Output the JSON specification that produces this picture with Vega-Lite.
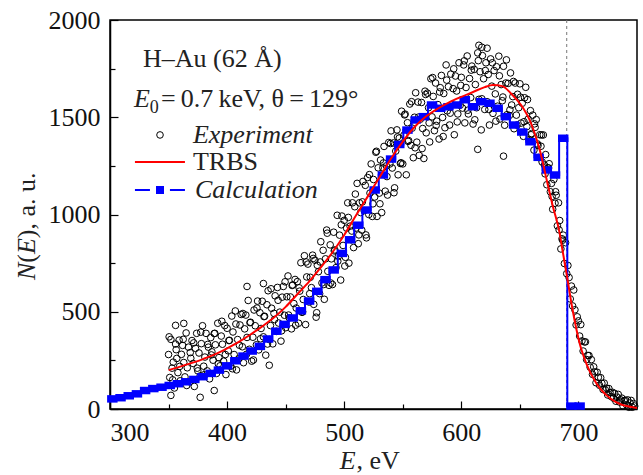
{
"$schema": "https://vega.github.io/schema/vega-lite/v6.json",
"width": 527, "height": 389,
"autosize": "none",
"padding": {"left": 110, "top": 20, "right": 6, "bottom": 66},
"config": {
 "font": "Liberation Serif",
 "view": {"stroke": "black", "strokeWidth": 1.5},
 "axis": {"grid": false, "domainColor": "black", "domainWidth": 1.5, "tickColor": "black", "tickWidth": 1.2, "labelColor": "#111111", "labelFont": "Liberation Serif", "labelFontSize": 26, "titleFont": "Liberation Serif", "titleFontSize": 26, "titleFontWeight": "normal", "titleColor": "black"}
},
"resolve": {"axis": {"x": "independent", "y": "independent"}},
"datasets": {
 "vline": [{"E": 690}],
 "exp": [
{"E":350,"N":280},{"E":351,"N":162},{"E":352,"N":358},{"E":353,"N":210},{"E":354,"N":241},{"E":355,"N":108},{"E":356,"N":334},{"E":357,"N":260},{"E":358,"N":187},{"E":359,"N":354},
{"E":360,"N":145},{"E":361,"N":281},{"E":362,"N":327},{"E":363,"N":239},{"E":364,"N":165},{"E":365,"N":391},{"E":366,"N":212},{"E":367,"N":318},{"E":368,"N":140},{"E":369,"N":261},
{"E":370,"N":352},{"E":371,"N":234},{"E":372,"N":116},{"E":373,"N":312},{"E":374,"N":389},{"E":375,"N":196},{"E":376,"N":288},{"E":377,"N":170},{"E":378,"N":336},{"E":379,"N":428},
{"E":380,"N":220},{"E":381,"N":267},{"E":382,"N":389},{"E":383,"N":196},{"E":384,"N":318},{"E":385,"N":155},{"E":386,"N":367},{"E":387,"N":294},{"E":388,"N":251},{"E":389,"N":388},
{"E":390,"N":330},{"E":391,"N":183},{"E":392,"N":441},{"E":393,"N":264},{"E":394,"N":222},{"E":395,"N":375},{"E":396,"N":333},{"E":397,"N":246},{"E":398,"N":429},{"E":399,"N":177},
{"E":400,"N":415},{"E":401,"N":299},{"E":402,"N":353},{"E":403,"N":220},{"E":404,"N":478},{"E":405,"N":396},{"E":406,"N":280},{"E":407,"N":504},{"E":408,"N":201},{"E":409,"N":357},
{"E":410,"N":258},{"E":411,"N":432},{"E":412,"N":486},{"E":413,"N":320},{"E":414,"N":238},{"E":415,"N":412},{"E":416,"N":483},{"E":417,"N":368},{"E":418,"N":558},{"E":419,"N":307},
{"E":420,"N":446},{"E":421,"N":246},{"E":422,"N":369},{"E":423,"N":509},{"E":424,"N":428},{"E":425,"N":330},{"E":426,"N":555},{"E":427,"N":304},{"E":428,"N":495},{"E":429,"N":414},
{"E":430,"N":554},{"E":431,"N":371},{"E":432,"N":477},{"E":433,"N":277},{"E":434,"N":536},{"E":435,"N":608},{"E":436,"N":357},{"E":437,"N":429},{"E":438,"N":518},{"E":439,"N":335},
{"E":440,"N":492},{"E":441,"N":582},{"E":442,"N":399},{"E":443,"N":625},{"E":444,"N":442},{"E":445,"N":498},{"E":446,"N":349},{"E":447,"N":575},{"E":448,"N":630},{"E":449,"N":482},
{"E":450,"N":418},{"E":451,"N":577},{"E":452,"N":684},{"E":453,"N":469},{"E":454,"N":576},{"E":455,"N":412},{"E":456,"N":638},{"E":457,"N":542},{"E":458,"N":666},{"E":459,"N":519},
{"E":460,"N":655},{"E":461,"N":441},{"E":462,"N":606},{"E":463,"N":752},{"E":464,"N":497},{"E":465,"N":563},{"E":466,"N":788},{"E":467,"N":434},{"E":468,"N":679},{"E":469,"N":745},
{"E":470,"N":550},{"E":471,"N":677},{"E":472,"N":624},{"E":473,"N":791},{"E":474,"N":538},{"E":475,"N":765},{"E":476,"N":472},{"E":477,"N":739},{"E":478,"N":706},{"E":479,"N":593},
{"E":480,"N":860},{"E":481,"N":648},{"E":482,"N":816},{"E":483,"N":564},{"E":484,"N":772},{"E":485,"N":920},{"E":486,"N":708},{"E":487,"N":636},{"E":488,"N":844},{"E":489,"N":772},
{"E":490,"N":640},{"E":491,"N":909},{"E":492,"N":818},{"E":493,"N":727},{"E":494,"N":996},{"E":495,"N":785},{"E":496,"N":894},{"E":497,"N":663},{"E":498,"N":992},{"E":499,"N":841},
{"E":500,"N":970},{"E":501,"N":780},{"E":502,"N":930},{"E":503,"N":1060},{"E":504,"N":750},{"E":505,"N":940},{"E":506,"N":870},{"E":507,"N":1060},{"E":508,"N":830},{"E":509,"N":1040},
{"E":510,"N":930},{"E":511,"N":1160},{"E":512,"N":850},{"E":513,"N":1060},{"E":514,"N":1010},{"E":515,"N":920},{"E":516,"N":1170},{"E":517,"N":1020},{"E":518,"N":1150},{"E":519,"N":880},
{"E":520,"N":1190},{"E":521,"N":1000},{"E":522,"N":1110},{"E":523,"N":1260},{"E":524,"N":990},{"E":525,"N":1180},{"E":526,"N":1090},{"E":527,"N":1320},{"E":528,"N":990},{"E":529,"N":1240},
{"E":530,"N":1110},{"E":531,"N":1280},{"E":532,"N":1010},{"E":533,"N":1240},{"E":534,"N":1350},{"E":535,"N":1120},{"E":536,"N":1250},{"E":537,"N":1100},{"E":538,"N":1370},{"E":539,"N":1260},
{"E":540,"N":1430},{"E":541,"N":1239},{"E":542,"N":1368},{"E":543,"N":1137},{"E":544,"N":1326},{"E":545,"N":1435},{"E":546,"N":1204},{"E":547,"N":1393},{"E":548,"N":1262},{"E":549,"N":1531},
{"E":550,"N":1260},{"E":551,"N":1408},{"E":552,"N":1516},{"E":553,"N":1204},{"E":554,"N":1472},{"E":555,"N":1380},{"E":556,"N":1568},{"E":557,"N":1356},{"E":558,"N":1444},{"E":559,"N":1292},
{"E":560,"N":1500},{"E":561,"N":1626},{"E":562,"N":1372},{"E":563,"N":1578},{"E":564,"N":1304},{"E":565,"N":1490},{"E":566,"N":1576},{"E":567,"N":1442},{"E":568,"N":1288},{"E":569,"N":1634},
{"E":570,"N":1420},{"E":571,"N":1624},{"E":572,"N":1549},{"E":573,"N":1373},{"E":574,"N":1698},{"E":575,"N":1502},{"E":576,"N":1607},{"E":577,"N":1431},{"E":578,"N":1676},{"E":579,"N":1480},
{"E":580,"N":1565},{"E":581,"N":1388},{"E":582,"N":1652},{"E":583,"N":1715},{"E":584,"N":1499},{"E":585,"N":1622},{"E":586,"N":1446},{"E":587,"N":1769},{"E":588,"N":1533},{"E":589,"N":1657},
{"E":590,"N":1460},{"E":591,"N":1722},{"E":592,"N":1565},{"E":593,"N":1647},{"E":594,"N":1410},{"E":595,"N":1712},{"E":596,"N":1635},{"E":597,"N":1517},{"E":598,"N":1780},{"E":599,"N":1562},
{"E":600,"N":1705},{"E":601,"N":1547},{"E":602,"N":1769},{"E":603,"N":1471},{"E":604,"N":1653},{"E":605,"N":1815},{"E":606,"N":1517},{"E":607,"N":1699},{"E":608,"N":1601},{"E":609,"N":1763},
{"E":610,"N":1465},{"E":611,"N":1746},{"E":612,"N":1668},{"E":613,"N":1549},{"E":614,"N":1831},{"E":615,"N":1592},{"E":616,"N":1734},{"E":617,"N":1435},{"E":618,"N":1817},{"E":619,"N":1698},
{"E":620,"N":1540},{"E":621,"N":1780},{"E":622,"N":1580},{"E":623,"N":1720},{"E":624,"N":1460},{"E":625,"N":1800},{"E":626,"N":1660},{"E":627,"N":1520},{"E":628,"N":1740},{"E":629,"N":1620},
{"E":630,"N":1760},{"E":631,"N":1557},{"E":632,"N":1814},{"E":633,"N":1491},{"E":634,"N":1668},{"E":635,"N":1585},{"E":636,"N":1762},{"E":637,"N":1459},{"E":638,"N":1676},{"E":639,"N":1513},
{"E":640,"N":1674},{"E":641,"N":1509},{"E":642,"N":1728},{"E":643,"N":1563},{"E":644,"N":1606},{"E":645,"N":1441},{"E":646,"N":1676},{"E":647,"N":1511},{"E":648,"N":1618},{"E":649,"N":1549},
{"E":650,"N":1672},{"E":651,"N":1470},{"E":652,"N":1572},{"E":653,"N":1402},{"E":654,"N":1600},{"E":655,"N":1654},{"E":656,"N":1452},{"E":657,"N":1490},{"E":658,"N":1384},{"E":659,"N":1534},
{"E":660,"N":1416},{"E":661,"N":1511},{"E":662,"N":1331},{"E":663,"N":1448},{"E":664,"N":1488},{"E":665,"N":1363},{"E":666,"N":1293},{"E":667,"N":1410},{"E":668,"N":1351},{"E":669,"N":1270},
{"E":670,"N":1409},{"E":671,"N":1254},{"E":672,"N":1308},{"E":673,"N":1153},{"E":674,"N":1240},{"E":675,"N":1261},{"E":676,"N":1117},{"E":677,"N":1160},{"E":678,"N":1027},{"E":679,"N":1180},
{"E":680,"N":1058},{"E":681,"N":1099},{"E":682,"N":942},{"E":683,"N":1060},{"E":684,"N":969},{"E":685,"N":823},{"E":686,"N":875},{"E":687,"N":894},{"E":688,"N":748},{"E":689,"N":855},
{"E":690,"N":696},{"E":691,"N":738},{"E":692,"N":676},{"E":693,"N":566},{"E":694,"N":632},{"E":695,"N":530},{"E":696,"N":612},{"E":697,"N":510},{"E":698,"N":432},{"E":699,"N":474},
{"E":700,"N":453},{"E":701,"N":375},{"E":702,"N":434},{"E":703,"N":350},{"E":704,"N":298},{"E":705,"N":345},{"E":706,"N":345},{"E":707,"N":254},{"E":708,"N":275},{"E":709,"N":275},
{"E":710,"N":215},{"E":711,"N":254},{"E":712,"N":178},{"E":713,"N":217},{"E":714,"N":191},{"E":715,"N":135},{"E":716,"N":189},{"E":717,"N":163},{"E":718,"N":122},{"E":719,"N":161},
{"E":720,"N":132},{"E":721,"N":100},{"E":722,"N":133},{"E":723,"N":98},{"E":724,"N":107},{"E":725,"N":72},{"E":726,"N":105},{"E":727,"N":85},{"E":728,"N":64},{"E":729,"N":86},
{"E":730,"N":56},{"E":731,"N":80},{"E":732,"N":40},{"E":733,"N":61},{"E":734,"N":75},{"E":735,"N":36},{"E":736,"N":47},{"E":737,"N":56},{"E":738,"N":16},{"E":739,"N":43},
{"E":740,"N":45},{"E":741,"N":22},{"E":742,"N":47},{"E":743,"N":9},{"E":744,"N":31},{"E":745,"N":44},{"E":746,"N":9},{"E":747,"N":28},{"E":748,"N":15},
{"E":352,"N":70},{"E":377,"N":60},{"E":389,"N":95},{"E":417,"N":630},{"E":436,"N":225},{"E":431,"N":645},{"E":615,"N":1870},{"E":617.5,"N":1860},{"E":622,"N":1855},{"E":614,"N":1335},{"E":636,"N":1300},{"E":356,"N":430},{"E":363,"N":440},
{"E":350.5,"N":371},{"E":353.5,"N":150},{"E":356.5,"N":305},{"E":359.5,"N":219},{"E":362.5,"N":358},{"E":365.5,"N":121},{"E":368.5,"N":290},{"E":371.5,"N":340},{"E":374.5,"N":210},{"E":377.5,"N":395},
{"E":380.5,"N":176},{"E":383.5,"N":332},{"E":386.5,"N":278},{"E":389.5,"N":389},{"E":392.5,"N":232},{"E":395.5,"N":451},{"E":398.5,"N":280},{"E":401.5,"N":352},{"E":404.5,"N":207},{"E":407.5,"N":437},
{"E":410.5,"N":328},{"E":413.5,"N":491},{"E":416.5,"N":281},{"E":419.5,"N":444},{"E":422.5,"N":252},{"E":425.5,"N":519},{"E":428.5,"N":361},{"E":431.5,"N":475},{"E":434.5,"N":334},{"E":437.5,"N":618},
{"E":440.5,"N":460},{"E":443.5,"N":559},{"E":446.5,"N":402},{"E":449.5,"N":654},{"E":452.5,"N":483},{"E":455.5,"N":635},{"E":458.5,"N":431},{"E":461.5,"N":623},{"E":464.5,"N":500},{"E":467.5,"N":756},
{"E":470.5,"N":593},{"E":473.5,"N":774},{"E":476.5,"N":495},{"E":479.5,"N":756},{"E":482.5,"N":640},{"E":485.5,"N":904},{"E":488.5,"N":648},{"E":491.5,"N":813},{"E":494.5,"N":760},{"E":497.5,"N":947},
{"E":500.5,"N":735},{"E":503.5,"N":985},{"E":506.5,"N":915},{"E":509.5,"N":1105},{"E":512.5,"N":895},{"E":515.5,"N":1065},{"E":518.5,"N":895},{"E":521.5,"N":1205},{"E":524.5,"N":1055},{"E":527.5,"N":1325},
{"E":530.5,"N":1055},{"E":533.5,"N":1265},{"E":536.5,"N":1195},{"E":539.5,"N":1365},{"E":542.5,"N":1112},{"E":545.5,"N":1399},{"E":548.5,"N":1266},{"E":551.5,"N":1512},{"E":554.5,"N":1376},{"E":557.5,"N":1580},
{"E":560.5,"N":1343},{"E":563.5,"N":1501},{"E":566.5,"N":1339},{"E":569.5,"N":1617},{"E":572.5,"N":1471},{"E":575.5,"N":1704},{"E":578.5,"N":1458},{"E":581.5,"N":1630},{"E":584.5,"N":1401},{"E":587.5,"N":1691},
{"E":590.5,"N":1521},{"E":593.5,"N":1749},{"E":596.5,"N":1476},{"E":599.5,"N":1664},{"E":602.5,"N":1790},{"E":605.5,"N":1536},{"E":608.5,"N":1742},{"E":611.5,"N":1487},{"E":614.5,"N":1791},{"E":617.5,"N":1595},
{"E":620.5,"N":1740},{"E":623.5,"N":1540},{"E":626.5,"N":1780},{"E":629.5,"N":1480},{"E":632.5,"N":1713},{"E":635.5,"N":1604},{"E":638.5,"N":1795},{"E":641.5,"N":1538},{"E":644.5,"N":1684},{"E":647.5,"N":1460},
{"E":650.5,"N":1603},{"E":653.5,"N":1477},{"E":656.5,"N":1591},{"E":659.5,"N":1410},{"E":662.5,"N":1466},{"E":665.5,"N":1355},{"E":668.5,"N":1409},{"E":671.5,"N":1209},{"E":674.5,"N":1239},{"E":677.5,"N":1093},
{"E":680.5,"N":1117},{"E":683.5,"N":921},{"E":686.5,"N":868}
 ],
 "calc": [
{"E":302,"N":52},{"E":309,"N":58},{"E":316,"N":68},{"E":323,"N":78},{"E":330,"N":95},{"E":337,"N":105},{"E":344,"N":112},{"E":351,"N":121},{"E":358,"N":130},{"E":365,"N":140},
{"E":372,"N":152},{"E":379,"N":166},{"E":386,"N":183},{"E":393,"N":200},{"E":400,"N":222},{"E":407,"N":248},{"E":414,"N":272},{"E":421,"N":298},{"E":428,"N":322},{"E":435,"N":360},
{"E":442,"N":400},{"E":449,"N":435},{"E":456,"N":468},{"E":463,"N":505},{"E":470,"N":555},{"E":477,"N":605},{"E":484,"N":665},{"E":491,"N":715},{"E":498,"N":800},{"E":505,"N":870},
{"E":512,"N":945},{"E":519,"N":1023},{"E":526,"N":1126},{"E":533,"N":1203},{"E":540,"N":1285},{"E":547,"N":1360},{"E":554,"N":1434},{"E":561,"N":1486},{"E":568,"N":1503},{"E":575,"N":1563},
{"E":582,"N":1546},{"E":589,"N":1554},{"E":596,"N":1563},{"E":603,"N":1590},{"E":610,"N":1554},{"E":617,"N":1580},{"E":624,"N":1572},{"E":631,"N":1546},{"E":638,"N":1503},{"E":645,"N":1460},
{"E":652,"N":1424},{"E":659,"N":1374},{"E":666,"N":1294},{"E":673,"N":1229},{"E":680,"N":1203},{"E":687,"N":1392},{"E":694,"N":15},{"E":701,"N":15}
 ],
 "trbs": [
{"E":350,"N":200},{"E":360,"N":218},{"E":370,"N":237},{"E":380,"N":258},{"E":390,"N":282},{"E":400,"N":312},{"E":410,"N":345},{"E":420,"N":383},{"E":430,"N":425},{"E":440,"N":470},
{"E":450,"N":525},{"E":460,"N":590},{"E":470,"N":655},{"E":480,"N":728},{"E":490,"N":806},{"E":500,"N":895},{"E":510,"N":995},{"E":520,"N":1092},{"E":530,"N":1190},{"E":540,"N":1288},
{"E":550,"N":1375},{"E":560,"N":1450},{"E":570,"N":1505},{"E":580,"N":1545},{"E":590,"N":1578},{"E":600,"N":1605},{"E":610,"N":1630},{"E":620,"N":1655},{"E":627,"N":1666},{"E":635,"N":1660},
{"E":642,"N":1625},{"E":648,"N":1585},{"E":653,"N":1545},{"E":658,"N":1490},{"E":662,"N":1428},{"E":667,"N":1331},{"E":673,"N":1175},{"E":678,"N":1045},{"E":684,"N":903},{"E":686,"N":830},
{"E":690,"N":690},{"E":695,"N":510},{"E":701,"N":338},{"E":707,"N":230},{"E":715,"N":135},{"E":727,"N":55},{"E":737,"N":22},{"E":744,"N":12},{"E":750,"N":5}
 ],
 "legPt": [{"E":342.7,"N":1409}],
 "legRed": [{"E":321.3,"E2":364,"N":1270}],
 "legBlue": [{"E":321.3,"E2":364,"N":1126}],
 "legSq": [{"E":342.7,"N":1126}],
 "txtNormal": [{"E":328.2,"N":1758,"t":"H–Au (62 Å)"},{"E":370.8,"N":1229,"t":"TRBS"},{"E":343.5,"N":1553,"t":"\u2009=\u20090.7\u2009keV, θ\u2009=\u2009129°"},{"E":510.5,"N":-306,"t":", eV"}],
 "txtItalic": [{"E":370.8,"N":1367,"t":"Experiment"},{"E":372.5,"N":1085,"t":"Calculation"},{"E":320.5,"N":1553,"t":"E"},{"E":496.2,"N":-306,"t":"E"}],
 "txtSub": [{"E":334,"N":1520,"t":"0"}],
 "yNormal": [{"E":236,"N":752,"t":"("},{"E":236,"N":878,"t":"), a. u."}],
 "yItalic": [{"E":236,"N":663,"t":"N"},{"E":236,"N":797,"t":"E"}]
},
"layer": [
 {"data": {"name": "vline"}, "mark": {"type": "rule", "color": "#777777", "strokeWidth": 1, "strokeDash": [3, 3]},
  "encoding": {"x": {"field": "E", "type": "quantitative", "axis": null}}},
 {"data": {"name": "exp"}, "mark": {"type": "point", "shape": "circle", "filled": false, "color": "black", "strokeWidth": 1, "size": 44, "opacity": 1},
  "encoding": {
   "x": {"field": "E", "type": "quantitative", "scale": {"domain": [300, 750], "nice": false, "zero": false},
     "axis": {"orient": "bottom", "values": [300, 400, 500, 600, 700], "format": "d", "tickSize": -8, "labelPadding": 18, "labelFont": "Liberation Serif", "labelFontSize": 26, "title": null}},
   "y": {"field": "N", "type": "quantitative", "scale": {"domain": [0, 2000], "nice": false, "zero": true},
     "axis": {"orient": "left", "values": [0, 500, 1000, 1500, 2000], "format": "d", "tickSize": -8, "labelPadding": 18, "labelFont": "Liberation Serif", "labelFontSize": 26, "title": null}}
  }},
 {"data": {"name": "calc"}, "mark": {"type": "line", "color": "#0000ff", "strokeWidth": 2, "interpolate": "step"},
  "encoding": {"x": {"field": "E", "type": "quantitative", "axis": null}, "y": {"field": "N", "type": "quantitative", "axis": null}}},
 {"data": {"name": "calc"}, "mark": {"type": "point", "shape": "M-1.4,-1H1.4V1H-1.4Z", "filled": true, "color": "#0000ff", "size": 56, "opacity": 1},
  "encoding": {"x": {"field": "E", "type": "quantitative", "axis": null}, "y": {"field": "N", "type": "quantitative", "axis": null}}},
 {"data": {"name": "trbs"}, "mark": {"type": "line", "color": "#ff0000", "strokeWidth": 2, "interpolate": "monotone"},
  "encoding": {
   "x": {"field": "E", "type": "quantitative", "axis": {"orient": "bottom", "values": [350, 450, 550, 650], "tickSize": -5, "labels": false, "domain": false, "title": null}},
   "y": {"field": "N", "type": "quantitative", "axis": {"orient": "left", "values": [250, 750, 1250, 1750], "tickSize": -5, "labels": false, "domain": false, "title": null}}
  }},
 {"data": {"name": "legPt"}, "mark": {"type": "point", "shape": "circle", "filled": false, "color": "black", "strokeWidth": 1, "size": 44, "opacity": 1},
  "encoding": {"x": {"field": "E", "type": "quantitative", "axis": null}, "y": {"field": "N", "type": "quantitative", "axis": null}}},
 {"data": {"name": "legRed"}, "mark": {"type": "rule", "color": "#ff0000", "strokeWidth": 2},
  "encoding": {"x": {"field": "E", "type": "quantitative", "axis": null}, "x2": {"field": "E2"}, "y": {"field": "N", "type": "quantitative", "axis": null}}},
 {"data": {"name": "legBlue"}, "mark": {"type": "rule", "color": "#0000ff", "strokeWidth": 2, "strokeDash": [15, 20]},
  "encoding": {"x": {"field": "E", "type": "quantitative", "axis": null}, "x2": {"field": "E2"}, "y": {"field": "N", "type": "quantitative", "axis": null}}},
 {"data": {"name": "legSq"}, "mark": {"type": "point", "shape": "square", "filled": true, "color": "#0000ff", "size": 64, "opacity": 1},
  "encoding": {"x": {"field": "E", "type": "quantitative", "axis": null}, "y": {"field": "N", "type": "quantitative", "axis": null}}},
 {"data": {"name": "txtNormal"}, "mark": {"type": "text", "align": "left", "baseline": "alphabetic", "font": "Liberation Serif", "fontSize": 26, "color": "#222222"},
  "encoding": {"x": {"field": "E", "type": "quantitative", "axis": null}, "y": {"field": "N", "type": "quantitative", "axis": null}, "text": {"field": "t"}}},
 {"data": {"name": "txtItalic"}, "mark": {"type": "text", "align": "left", "baseline": "alphabetic", "font": "Liberation Serif", "fontStyle": "italic", "fontSize": 26, "color": "#222222"},
  "encoding": {"x": {"field": "E", "type": "quantitative", "axis": null}, "y": {"field": "N", "type": "quantitative", "axis": null}, "text": {"field": "t"}}},
 {"data": {"name": "txtSub"}, "mark": {"type": "text", "align": "left", "baseline": "alphabetic", "font": "Liberation Serif", "fontSize": 18, "color": "#222222"},
  "encoding": {"x": {"field": "E", "type": "quantitative", "axis": null}, "y": {"field": "N", "type": "quantitative", "axis": null}, "text": {"field": "t"}}},
 {"data": {"name": "yNormal"}, "mark": {"type": "text", "align": "left", "baseline": "alphabetic", "angle": 270, "font": "Liberation Serif", "fontSize": 26, "color": "#222222"},
  "encoding": {"x": {"field": "E", "type": "quantitative", "axis": null}, "y": {"field": "N", "type": "quantitative", "axis": null}, "text": {"field": "t"}}},
 {"data": {"name": "yItalic"}, "mark": {"type": "text", "align": "left", "baseline": "alphabetic", "angle": 270, "font": "Liberation Serif", "fontStyle": "italic", "fontSize": 26, "color": "#222222"},
  "encoding": {"x": {"field": "E", "type": "quantitative", "axis": null}, "y": {"field": "N", "type": "quantitative", "axis": null}, "text": {"field": "t"}}}
]
}
